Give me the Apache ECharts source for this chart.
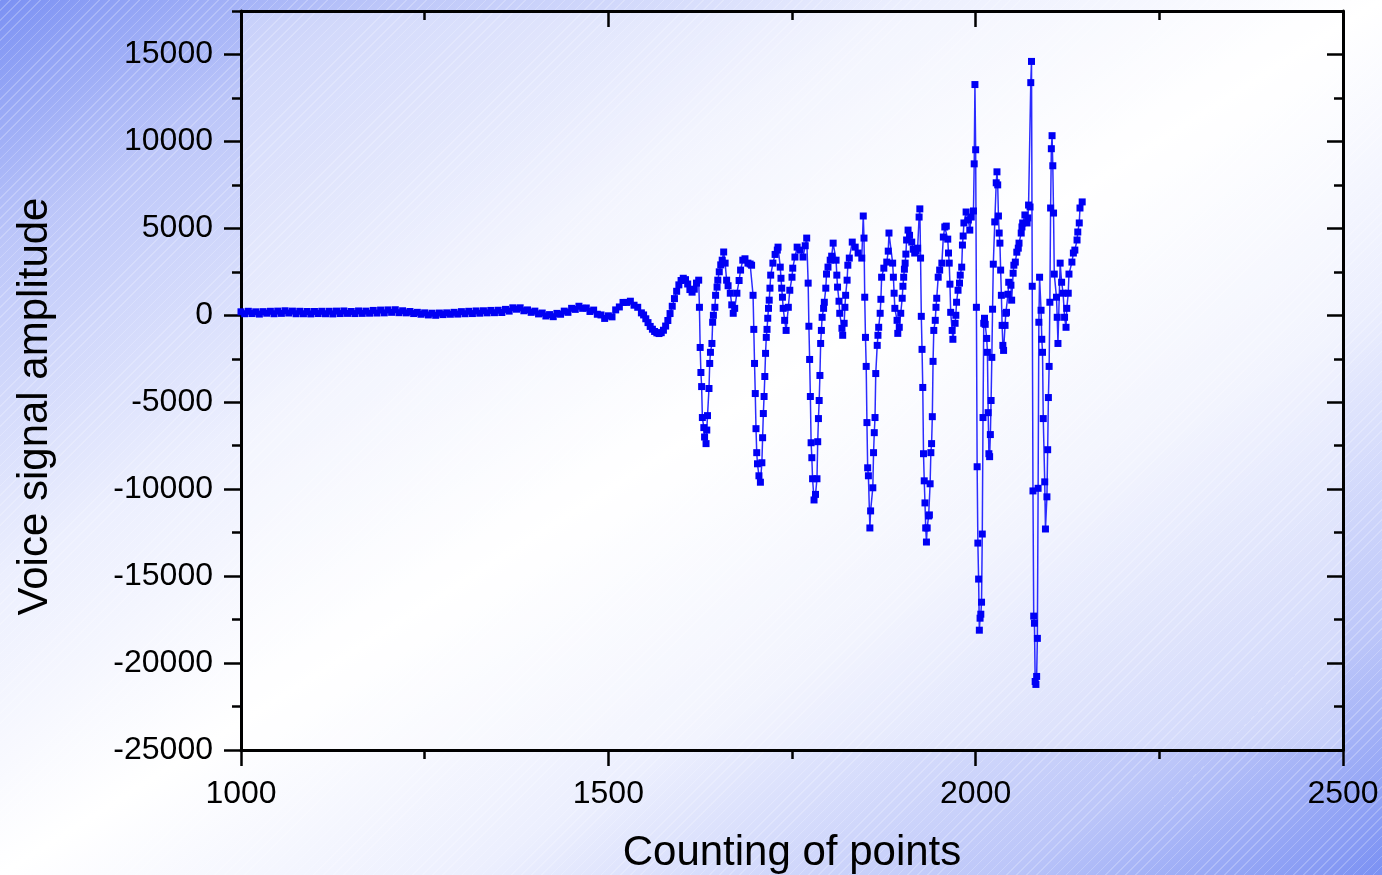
<!DOCTYPE html>
<html>
<head>
<meta charset="utf-8">
<title>Voice signal</title>
<script src="https://cdn.jsdelivr.net/npm/echarts@6/dist/echarts.min.js"></script>
<style>
  html, body { margin: 0; padding: 0; }
  #main {
    width: 1382px;
    height: 875px;
    background:
      repeating-linear-gradient(135deg, rgba(255,255,255,0.22) 0px, rgba(255,255,255,0.22) 1px, rgba(255,255,255,0) 1px, rgba(255,255,255,0) 7px),
      linear-gradient(to bottom right, #7b91f3 0%, #bcc6f9 14%, #eceffe 33%, #ffffff 50%, #eceffe 67%, #bcc6f9 86%, #7b91f3 100%);
  }
</style>
</head>
<body>
<div id="main"></div>
<script>
var myChart = echarts.init(document.getElementById('main'));

// quiet part before voicing: one reading every 5 points from 1000
var quietStart = 1000;
var quietStep = 5;
var quietY = [
  200, 90, 230, 100, 200, 70, 210, 120, 230, 90, 240, 110, 260, 130, 240, 90, 230, 90, 220, 80,
  220, 100, 230, 90, 230, 80, 240, 100, 250, 110, 220, 100, 250, 110, 240, 120, 280, 130, 300, 140,
  310, 170, 320, 150, 260, 140, 220, 100, 170, 60, 140, 20, 120, 0, 130, 40, 140, 60, 170, 70,
  210, 90, 230, 100, 250, 120, 260, 140, 280, 150, 290, 160, 340, 240, 430, 350, 430, 260, 310, 170,
  240, 80, 130, -40, 40, -80, 110, 60, 240, 170, 400, 340, 520, 400, 420, 220, 300, 60, 20, -180,
  -30, -90, 310, 480, 740, 740, 810, 580, 460, 140
];

// voiced part: [point, amplitude]
var voiced = [
  [1548,20],[1551,-200],[1554,-420],[1557,-640],[1560,-800],[1563,-930],[1566,-1010],[1569,-1050],[1572,-1000],[1575,-860],
  [1578,-620],[1581,-300],[1584,100],[1587,520],[1590,960],[1593,1380],[1596,1750],[1599,2000],[1602,2130],[1605,2050],
  [1608,1800],[1611,1480],[1614,1330],[1617,1500],[1620,1850],[1623,2020],
  [1624,460],[1625,-1850],[1626,-3290],[1627,-4100],[1628,-5880],[1630,-6460],[1631,-7000],[1633,-7380],[1634,-6600],[1635,-5770],
  [1637,-4210],[1638,-2770],[1639,-2130],[1641,-1620],[1642,-400],[1643,0],[1645,460],[1646,1150],[1648,1620],[1649,2020],
  [1651,2500],[1653,2900],[1655,3170],[1657,3640],[1659,3000],[1661,2020],[1663,1700],[1666,1270],[1668,600],[1670,115],
  [1672,400],[1675,1270],[1678,2000],[1680,2600],[1683,3170],[1686,3250],[1690,3000],[1693,2950],[1695,2880],
  [1697,1150],[1698,-810],[1699,-2770],[1700,-4500],[1701,-6520],[1702,-7900],[1703,-8540],[1705,-9230],[1707,-9600],[1709,-8480],
  [1710,-7040],[1711,-5650],[1712,-4670],[1713,-3520],[1714,-2190],[1715,-1270],[1716,-810],[1717,-170],[1718,400],[1719,870],
  [1720,1560],[1721,2310],[1724,3000],[1727,3500],[1730,3750],[1731,3920],[1734,2770],[1735,2130],[1736,1560],[1737,1040],
  [1738,400],[1740,-290],[1742,-870],[1745,460],[1747,1440],[1750,2190],[1751,2710],[1754,3350],[1757,3920],[1761,3750],
  [1765,3350],[1768,4000],[1770,4440],
  [1772,1850],[1773,-630],[1774,-2540],[1775,-4670],[1776,-7330],[1777,-8190],[1778,-9400],[1780,-10620],[1782,-10300],[1784,-9400],
  [1785,-7270],[1786,-5940],[1787,-4900],[1788,-3460],[1789,-1620],[1790,-870],[1791,-115],[1793,400],[1794,750],[1796,1560],
  [1797,2370],[1799,2770],[1802,3170],[1804,3400],[1806,4150],[1810,3170],[1811,2310],[1812,1620],[1814,810],[1815,115],
  [1818,-750],[1819,-1150],[1821,-460],[1822,460],[1823,1150],[1825,2020],[1826,2880],[1828,3290],[1832,4210],[1836,3920],
  [1840,3580],[1845,3290],[1847,5710],[1848,4440],
  [1849,1040],[1850,-1270],[1851,-2940],[1852,-6170],[1853,-8770],[1854,-9230],[1856,-12230],[1857,-11250],[1860,-9920],[1861,-7900],
  [1862,-6750],[1863,-5880],[1864,-3350],[1866,-1730],[1867,-1150],[1868,-690],[1870,115],[1871,920],[1872,2190],[1875,2710],
  [1879,3060],[1881,3690],[1882,4730],[1887,3000],[1888,2190],[1889,1270],[1890,400],[1893,-290],[1894,-1040],[1896,-690],
  [1898,115],[1900,980],[1901,1670],[1902,2190],[1903,2650],[1904,3000],[1905,3520],[1906,4330],[1908,4900],[1910,4600],
  [1913,4210],[1915,3800],[1917,3580],[1919,3700],[1921,3860],[1923,5650],[1924,6120],
  [1925,3290],[1926,-60],[1927,-1960],[1928,-4150],[1929,-7960],[1930,-9520],[1931,-10790],[1932,-12230],[1933,-13040],[1934,-12230],
  [1936,-11540],[1937,-11480],[1938,-9690],[1939,-7900],[1940,-7380],[1941,-5830],[1942,-2650],[1943,-870],[1945,-290],[1946,460],
  [1947,980],[1949,2190],[1951,2600],[1954,3000],[1956,4500],[1958,5080],[1960,5130],[1962,4380],[1963,3580],[1964,3000],
  [1965,1790],[1966,170],[1968,-870],[1969,-1380],[1972,-460],[1973,0],[1974,750],[1976,1440],[1978,1850],[1979,2310],
  [1981,2770],[1982,4040],[1983,4560],[1984,5310],[1987,5940],[1990,5480],[1992,4900],[1994,5650],[1997,6000],
  [1998,8710],[1999,13270],[2000,9520],[2001,460],[2002,-8710],[2003,-13100],[2004,-15170],[2005,-18110],[2006,-17420],[2007,-17190],
  [2008,-16500],[2009,-12580],[2010,-5880],[2011,-460],[2012,-170],[2013,-520],[2015,-1330],[2016,-2130],[2017,-5600],[2018,-7960],
  [2019,-8130],[2020,-6860],[2021,-4900],[2022,-2420],[2023,350],[2024,2940],[2026,5370],[2028,7620],[2029,8250],[2030,7500],
  [2031,5710],[2032,4730],[2033,4150],[2034,2600],[2035,1150],[2036,-580],[2037,-1730],[2038,-2020],[2040,-580],[2041,115],
  [2042,170],[2044,1210],[2045,1900],[2048,1730],[2049,870],[2051,2420],[2052,2880],[2054,3060],[2056,3630],[2058,3860],
  [2059,4150],[2062,4730],[2063,5080],[2064,5310],[2067,5770],[2070,5310],[2071,5600],[2072,6340],[2074,6230],
  [2075,13380],[2076,14600],[2077,1670],[2078,-10100],[2079,-17300],[2080,-17710],[2081,-21060],[2082,-21230],[2083,-20770],[2084,-18580],
  [2085,-9950],[2086,-400],[2087,2190],[2089,290],[2090,-1380],[2091,-2130],[2092,-5940],[2094,-9580],[2095,-12290],[2097,-10440],
  [2098,-7730],[2099,-4730],[2100,-2940],[2101,750],[2102,6170],[2103,9580],[2104,10330],[2105,8600],[2106,5880],[2107,2370],
  [2110,1040],[2111,-115],[2112,-1620],[2115,3000],[2117,1900],[2119,1270],[2121,-115],[2123,-690],[2124,400],[2126,1270],
  [2127,2370],[2131,3060],[2133,3580],[2135,3750],[2138,4330],[2139,4790],[2141,5310],[2142,6170],[2145,6520]
];

var xMajorTicks = [1000, 1500, 2000, 2500];
var xMinorTicks = [1250, 1750, 2250];
var yMajorTicks = [-25000, -20000, -15000, -10000, -5000, 0, 5000, 10000, 15000];
var yMinorTicks = [-22500, -17500, -12500, -7500, -2500, 2500, 7500, 12500, 17500];

var signal = [];
for (var i = 0; i < quietY.length; i++) {
  signal.push([quietStart + i * quietStep, quietY[i]]);
}
signal = signal.concat(voiced);

var font = 'Liberation Sans, Arial, sans-serif';
var black = '#000';

// one side of the frame: a value axis that only draws line / ticks
function frameAxis(extra) {
  var base = {
    type: 'value',
    splitLine: { show: false },
    axisLine: { show: false, onZero: false },
    axisLabel: { show: false },
    axisTick: { show: false }
  };
  for (var k in extra) base[k] = extra[k];
  return base;
}

var option = {
  animation: false,
  grid: {
    left: 241, right: 39, top: 11, bottom: 125,
    outerBoundsMode: 'none',
    containLabel: false,
    show: true,
    backgroundColor: 'rgba(255,255,255,0.35)',
    borderWidth: 0
  },
  xAxis: [
    frameAxis({
      position: 'bottom', min: 1000, max: 2500, interval: 500,
      name: 'Counting of points', nameLocation: 'middle', nameGap: 82,
      nameTextStyle: { fontSize: 42, color: black, fontFamily: font },
      axisLine: { show: true, onZero: false, lineStyle: { color: black, width: 3 } },
      axisTick: { show: true, inside: false, length: 16, customValues: xMajorTicks, lineStyle: { color: black, width: 2.5 } },
      axisLabel: { show: true, customValues: xMajorTicks, fontSize: 32, color: black, fontFamily: font, margin: 28,
        formatter: function (v) { return String(v); } }
    }),
    frameAxis({
      position: 'bottom', min: 1000, max: 2500, interval: 250,
      axisTick: { show: true, inside: false, length: 9, customValues: xMinorTicks, lineStyle: { color: black, width: 2.5 } }
    }),
    frameAxis({
      position: 'top', min: 1000, max: 2500, interval: 500,
      axisLine: { show: true, onZero: false, lineStyle: { color: black, width: 3 } },
      axisTick: { show: true, inside: true, length: 16, customValues: xMajorTicks, lineStyle: { color: black, width: 2.5 } }
    }),
    frameAxis({
      position: 'top', min: 1000, max: 2500, interval: 250,
      axisTick: { show: true, inside: true, length: 9, customValues: xMinorTicks, lineStyle: { color: black, width: 2.5 } }
    })
  ],
  yAxis: [
    frameAxis({
      position: 'left', min: -25000, max: 17500, interval: 2500,
      name: 'Voice signal amplitude', nameLocation: 'middle', nameGap: 185,
      nameTextStyle: { fontSize: 42, color: black, fontFamily: font, padding: [0, 52, 0, 0] },
      axisLine: { show: true, onZero: false, lineStyle: { color: black, width: 3 } },
      axisTick: { show: true, inside: false, length: 17, customValues: yMajorTicks, lineStyle: { color: black, width: 2.5 } },
      axisLabel: { show: true, customValues: yMajorTicks, fontSize: 32, color: black, fontFamily: font, margin: 28,
        formatter: function (v) { return String(v); } }
    }),
    frameAxis({
      position: 'left', min: -25000, max: 17500, interval: 2500,
      axisTick: { show: true, inside: false, length: 9, customValues: yMinorTicks, lineStyle: { color: black, width: 2.5 } }
    }),
    frameAxis({
      position: 'right', min: -25000, max: 17500, interval: 2500,
      axisLine: { show: true, onZero: false, lineStyle: { color: black, width: 3 } },
      axisTick: { show: true, inside: true, length: 16, customValues: yMajorTicks, lineStyle: { color: black, width: 2.5 } }
    }),
    frameAxis({
      position: 'right', min: -25000, max: 17500, interval: 2500,
      axisTick: { show: true, inside: true, length: 9, customValues: yMinorTicks, lineStyle: { color: black, width: 2.5 } }
    })
  ],
  series: [{
    name: 'Voice signal',
    type: 'line',
    xAxisIndex: 0,
    yAxisIndex: 0,
    data: signal,
    showAllSymbol: true,
    symbol: 'rect',
    symbolSize: 7,
    itemStyle: { color: '#0000f4' },
    lineStyle: { color: '#2b2bff', width: 1.5 },
    emphasis: { disabled: true },
    z: 3
  }]
};

myChart.setOption(option);
</script>
</body>
</html>
